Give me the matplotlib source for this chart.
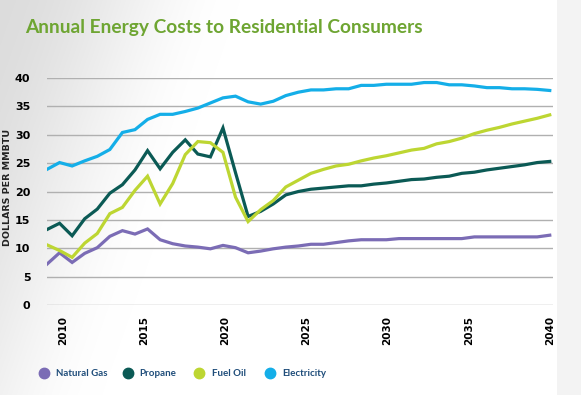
import matplotlib
matplotlib.use("Agg")
import matplotlib.pyplot as plt
from matplotlib.lines import Line2D
import numpy as np

# sampling grid of the source chart (41 points, 2009 -> 2040)
years = np.linspace(2009, 2040, 41)

natural_gas = [7.2, 9.2, 7.5, 9.1, 10.1, 12.1, 13.1, 12.5, 13.4, 11.5,
               10.8, 10.4, 10.2, 9.9, 10.5, 10.1, 9.2, 9.5, 9.9, 10.2,
               10.4, 10.7, 10.7, 11.0, 11.3, 11.5, 11.5, 11.5, 11.7, 11.7,
               11.7, 11.7, 11.7, 11.7, 12.0, 12.0, 12.0, 12.0, 12.0, 12.0, 12.3]
propane = [13.3, 14.4, 12.2, 15.2, 16.9, 19.7, 21.2, 23.8, 27.2, 24.0,
           26.9, 29.1, 26.6, 26.1, 31.2, 23.3, 15.6, 16.5, 17.8, 19.4,
           20.0, 20.4, 20.6, 20.8, 21.0, 21.0, 21.3, 21.5, 21.8, 22.1,
           22.2, 22.5, 22.7, 23.2, 23.4, 23.8, 24.1, 24.4, 24.7, 25.1, 25.3]
fuel_oil = [10.6, 9.6, 8.4, 10.9, 12.6, 16.1, 17.2, 20.2, 22.7, 17.8,
            21.4, 26.5, 28.8, 28.6, 26.9, 19.0, 14.7, 16.8, 18.4, 20.8,
            22.0, 23.2, 23.9, 24.5, 24.8, 25.4, 25.9, 26.3, 26.8, 27.3,
            27.6, 28.4, 28.8, 29.4, 30.2, 30.8, 31.3, 31.9, 32.4, 32.9, 33.5]
electricity = [23.9, 25.1, 24.5, 25.4, 26.2, 27.4, 30.4, 30.9, 32.7, 33.6,
               33.6, 34.1, 34.7, 35.6, 36.5, 36.8, 35.8, 35.4, 35.9, 36.9,
               37.5, 37.9, 37.9, 38.1, 38.1, 38.7, 38.7, 38.9, 38.9, 38.9,
               39.2, 39.2, 38.8, 38.8, 38.6, 38.3, 38.3, 38.1, 38.1, 38.0, 37.8]

series_names = ["Natural Gas", "Propane", "Fuel Oil", "Electricity"]
series_colors = ["#7b6cb5", "#0b5a55", "#bdd632", "#14aee8"]
x_ticks = [2010, 2015, 2020, 2025, 2030, 2035, 2040]
y_ticks = [0, 5, 10, 15, 20, 25, 30, 35, 40]

W, H = 581, 395
fig = plt.figure(figsize=(W / 100, H / 100), dpi=100)

# background: grey wash on the left, grey band on the right edge
bg = fig.add_axes([0, 0, 1, 1], zorder=-10)
px, py = np.meshgrid(np.arange(W), np.arange(H))
d = np.clip((px + 0.35 * py) / 240.0, 0, 1)
shade = 0.865 + 0.135 * (d * d * (3 - 2 * d))
shade = np.where(px > 556, np.minimum(shade, 0.955), shade)
bg.imshow(np.dstack([shade] * 3), aspect="auto", extent=[0, 1, 0, 1])
bg.axis("off")

ax = fig.add_axes([47 / W, 1 - 305 / H, 506 / W, 227 / H])
ax.set_facecolor("none")

for vals, name, col in zip([natural_gas, propane, fuel_oil, electricity],
                           series_names, series_colors):
    ax.plot(years, vals, color=col, lw=2.3, solid_joinstyle="miter", zorder=3)

ax.set_xlim(2009, 2040.2)
ax.set_ylim(0, 40)
ax.set_yticks(y_ticks)
ax.set_xticks(x_ticks)
ax.set_xticklabels([str(t) for t in x_ticks], rotation=90, fontsize=7.5,
                   fontweight="bold", va="top")
ax.set_yticklabels([str(t) for t in y_ticks], fontsize=8, fontweight="bold")
ax.grid(axis="y", color="#b0b0b0", lw=1.0)
ax.tick_params(axis="x", length=0, pad=8)
ax.tick_params(axis="y", length=0, pad=12)
for s in ax.spines.values():
    s.set_visible(False)

fig.text(8 / W, 1 - 187 / H, "DOLLARS PER MMBTU", rotation=90, fontsize=6.8,
         fontweight="bold", color="#222222", ha="center", va="center")

fig.text(25 / W, 1 - 28 / H, "Annual Energy Costs to Residential Consumers",
         color="#6ea532", fontsize=13.8, fontweight="bold", va="center",
         family="Lato")

# legend
dot_x = [44, 128, 199, 270]
txt_x = [56, 139, 212, 282]
for dx, tx, name, col in zip(dot_x, txt_x, series_names, series_colors):
    fig.add_artist(Line2D([dx / W], [1 - 373 / H], marker="o", ls="none",
                          ms=7.5, color=col, transform=fig.transFigure))
    fig.text(tx / W, 1 - 374 / H, name, color="#1f4d7a", fontsize=7,
             fontweight="bold", va="center", family="Lato")

fig.savefig("out.png", dpi=100)
